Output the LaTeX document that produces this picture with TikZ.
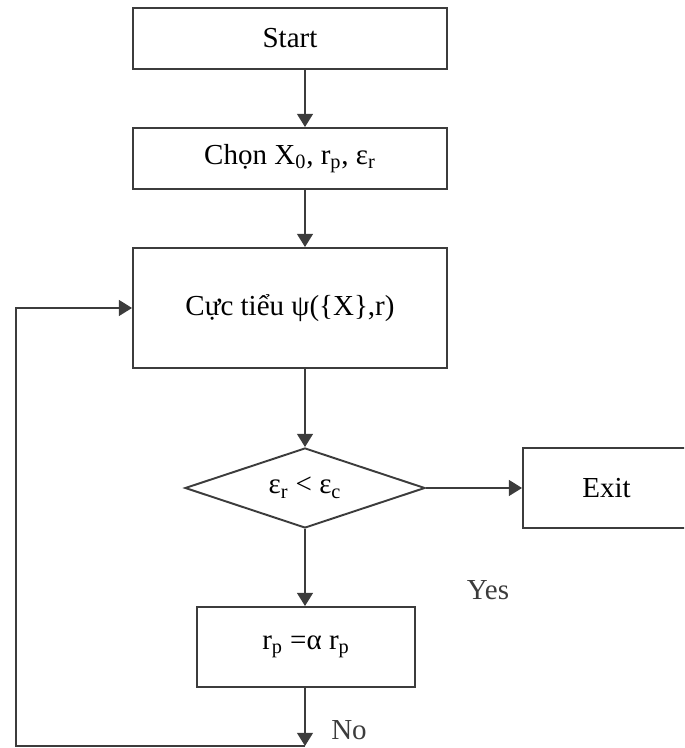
\documentclass[tikz,border=0pt]{standalone}
\usepackage{fontspec}
\setmainfont{Liberation Serif}
\usetikzlibrary{arrows.meta}
\usetikzlibrary{shapes.geometric}
\usetikzlibrary{positioning}
\definecolor{ink}{HTML}{3C3C3C}
\tikzset{
    box/.style={draw=ink, line width=1.1pt, inner sep=0pt, minimum width=6.28cm, minimum height=1.22cm, font=\fontsize{16.5}{19}\selectfont},
    decision/.style={draw=ink, line width=1.1pt, diamond, aspect=3, inner sep=0pt, minimum width=4.8cm, minimum height=1.6cm, font=\fontsize{16.5}{19}\selectfont},
    flow/.style={draw=ink, line width=1.1pt, -{Triangle[width=9pt,length=7.5pt]}},
    lbl/.style={font=\fontsize{16.5}{19}\selectfont, text=ink}
}

\begin{document}
\begin{tikzpicture}
                \useasboundingbox (0, 0) rectangle (13.68, 14.96);
                \clip (0, 0) rectangle (13.68, 14.96);
                \node[box] (start) at (5.8, 14.19) {Start};
                \node[box] (chon) at (5.8, 11.79) {Chọn X\textsubscript{0}, r\textsubscript{p}, ε\textsubscript{r}};
                \node[box, minimum height=2.4cm] (cuc) at (5.8, 8.8) {Cực tiểu ψ(\{X\},r)};
                \node[decision] (dec) at (6.1, 5.2) {ε\textsubscript{r} < ε\textsubscript{c}};
                \node[box, minimum width=3.34cm, minimum height=1.6cm] (exit) at (12.13, 5.2) {Exit};
                \node[box, minimum width=4.36cm, minimum height=1.6cm] (upd) at (6.12, 2.02) {r\textsubscript{p} =α r\textsubscript{p}};
                \node[lbl] (yes) at (9.76, 3.16) {Yes};
                \node[lbl] (no) at (6.98, 0.36) {No};
                \coordinate (spine) at (6.1, 0);
                \coordinate (turn) at (6.1, 0.04);
                \coordinate (corner) at (0.32, 0.04);
                \draw[flow] (start.south -| spine) -- (chon.north -| spine);
                \draw[flow] (chon.south -| spine) -- (cuc.north -| spine);
                \draw[flow] (cuc.south -| spine) -- (dec.north);
                \draw[flow] (dec.east) -- (exit.west);
                \draw[flow] (dec.south) -- (upd.north -| spine);
                \draw[flow] (upd.south -| spine) -- (turn);
                \draw[flow] (turn) -- (corner) |- (cuc.west);
            \end{tikzpicture}
\end{document}
